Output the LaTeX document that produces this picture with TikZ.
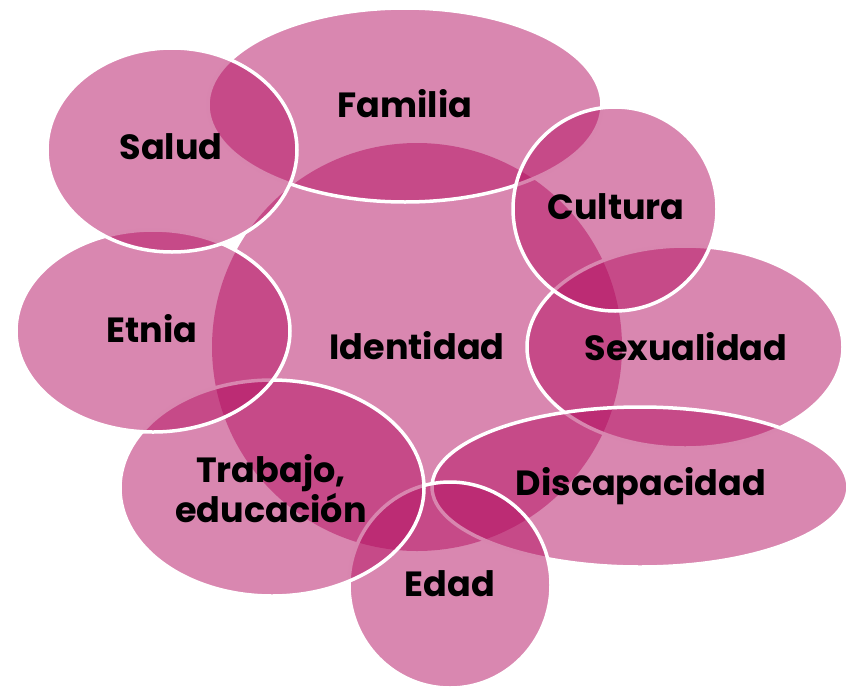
\documentclass[tikz,border=0pt]{standalone}
\usepackage{fontspec}
\setmainfont{Poppins}
\usetikzlibrary{shapes.geometric}
\definecolor{pk}{RGB}{179,15,97}
\tikzset{
  blob/.style={ellipse, inner sep=0pt, fill=pk, fill opacity=0.5, draw=white, line width=3.5pt},
  core/.style={ellipse, inner sep=0pt, fill=pk, fill opacity=0.5},
  lbl/.style={font=\fontsize{35}{40}\selectfont\bfseries, text=black, align=center, inner sep=0pt}
}
\begin{document}
\begin{tikzpicture}[x=1pt,y=-1pt]
\useasboundingbox (0,0) rectangle (858,688);
\node[core, minimum width=410pt, minimum height=408pt] (Identidad) at (417,347) {};
\node[blob, minimum width=394pt, minimum height=194pt] (Familia) at (405,105) {};
\node[blob, minimum width=316pt, minimum height=202pt] (Sexualidad) at (685,347) {};
\node[blob, minimum width=204pt, minimum height=204pt] (Cultura) at (615,209) {};
\node[blob, minimum width=416pt, minimum height=160pt] (Discapacidad) at (640,487) {};
\node[blob, minimum width=202pt, minimum height=206pt] (Edad) at (450,585) {};
\node[blob, minimum width=304pt, minimum height=216pt] (Trabajo) at (272,488) {};
\node[blob, minimum width=274pt, minimum height=202pt] (Etnia) at (153,331) {};
\node[blob, minimum width=250pt, minimum height=204pt] (Salud) at (172,150) {};
\node[lbl] (tIdentidad) at (417,346) {Identidad};
\node[lbl] (tFamilia) at (405,104) {Familia};
\node[lbl] (tSexualidad) at (686,347) {Sexualidad};
\node[lbl] (tCultura) at (616,207) {Cultura};
\node[lbl] (tDiscapacidad) at (641,486) {Discapacidad};
\node[lbl] (tEdad) at (450,584) {Edad};
\node[lbl] (tTrabajo) at (271,489) {Trabajo,\\educación};
\node[lbl] (tEtnia) at (152,329) {Etnia};
\node[lbl] (tSalud) at (171,147) {Salud};
\end{tikzpicture}
\end{document}
